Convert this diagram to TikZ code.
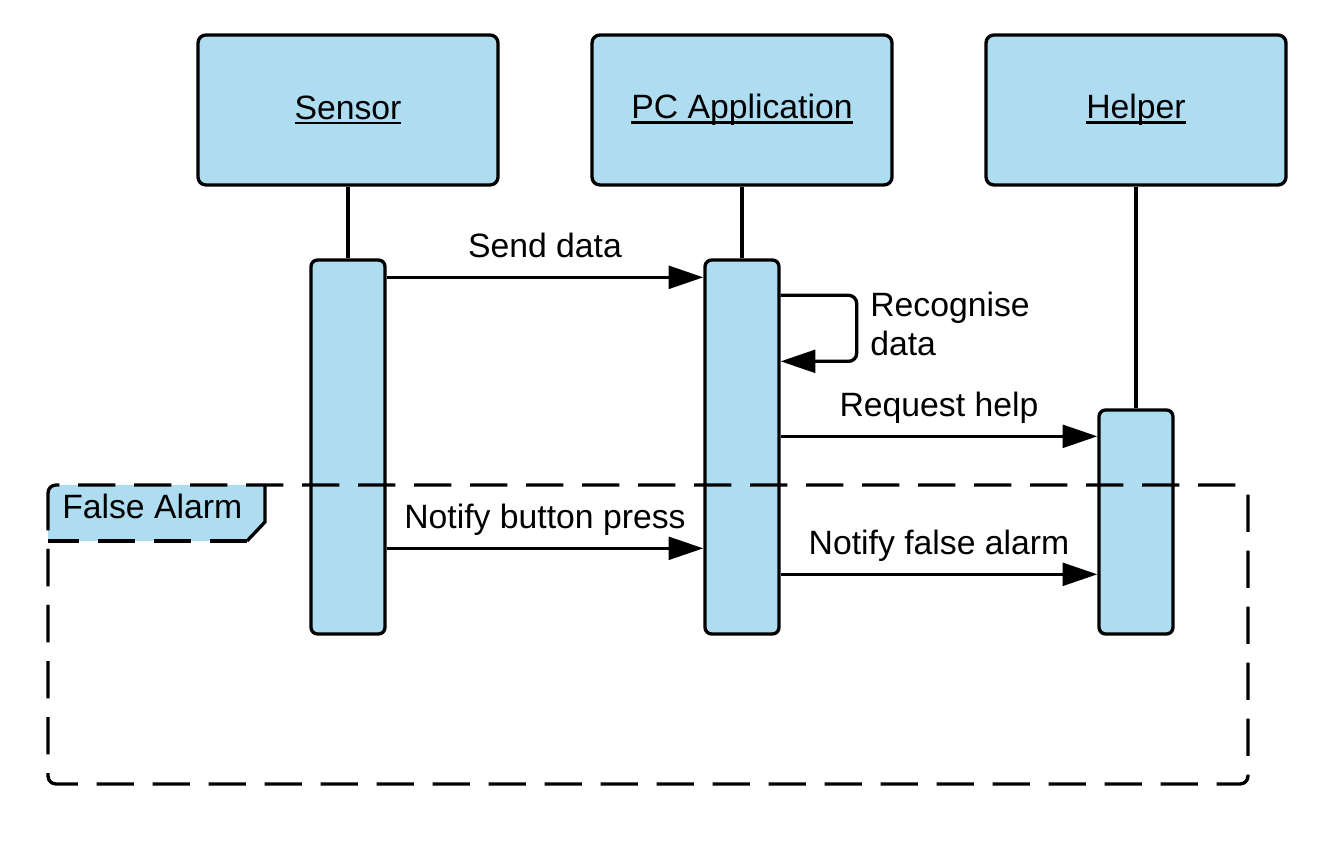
\documentclass[tikz,border=0pt]{standalone}
\usepackage{fontspec}
\setmainfont{Liberation Sans}
\usepackage{xcolor}
\usepackage{tikz}
\usetikzlibrary{arrows.meta, calc}
\definecolor{sblue}{HTML}{AEDDF2}
\newcommand{\lifename}[1]{\setbox0\hbox{#1}\rlap{\copy0}\rule[-3.6pt]{\wd0}{1.8pt}}

\begin{document}
\begin{tikzpicture}[x=0.75pt, y=-0.75pt,
  every node/.style={font=\fontsize{25.3}{29.5}\selectfont},
  lifebox/.style={draw, fill=sblue, line width=2.5pt, rounded corners=6pt,
    minimum width=225pt, minimum height=112.5pt},
  actbox/.style={draw, fill=sblue, line width=2.5pt, rounded corners=5pt,
    minimum width=55.5pt},
  msg/.style={line width=2.5pt, -{Triangle[length=26pt, width=17pt]}},
  lbl/.style={inner sep=0pt, anchor=base, yshift=15pt},
  frame/.style={line width=2.5pt, dash pattern=on 28pt off 14pt}]
\useasboundingbox (0,0) rectangle (1340,841);
% lifeline heads
\node[lifebox] (sensor) at (348,110) {\lifename{Sensor}};
\node[lifebox] (pcapp) at (742,110) {\lifename{PC Application}};
\node[lifebox] (helper) at (1136,110) {\lifename{Helper}};
% activation bars
\node[actbox, minimum height=280.5pt] (sact) at (348,447) {};
\node[actbox, minimum height=280.5pt] (pact) at (742,447) {};
\node[actbox, minimum height=168pt] (hact) at (1136,522) {};
\draw[line width=2.5pt] (sensor) -- (sact);
\draw[line width=2.5pt] (pcapp) -- (pact);
\draw[line width=2.5pt] (helper) -- (hact);
% messages
\draw[msg] ($(sact.north east)+(0,19)$) -- node[lbl] {Send data}
  ($(pact.north west)+(0,19)$);
\draw[msg, rounded corners=6pt] ($(pact.north east)+(0,37)$) -- ++(76,0)
  -- ++(0,66) -- ($(pact.north east)+(0,103)$);
\node[inner sep=0pt, anchor=west, align=left] (recog) at (870,324) {Recognise\\data};
\draw[msg] ($(pact.north east)+(0,178)$) -- node[lbl] {Request help}
  ($(hact.north west)+(0,28)$);
\draw[msg] ($(sact.north east)+(0,290)$) -- node[lbl] {Notify button press}
  ($(pact.north west)+(0,290)$);
\draw[msg] ($(pact.north east)+(0,316)$) -- node[lbl] {Notify false alarm}
  ($(hact.north west)+(0,166)$);
% combined fragment
\begin{scope}
  \clip[rounded corners=6pt] (48,485) rectangle (1248,784);
  \fill[sblue] (48,485) -- (265,485) -- (265,522) -- (247,541) -- (48,541) -- cycle;
\end{scope}
\draw[frame, rounded corners=6pt] (48,485) rectangle (1248,784);
\draw[line width=2.5pt] (265,485) -- (265,522) -- (247,541);
\draw[frame] (247,541) -- (48,541);
\node[inner sep=0pt, anchor=base west] (falsealarm) at (62,519) {False Alarm};
\end{tikzpicture}
\end{document}
